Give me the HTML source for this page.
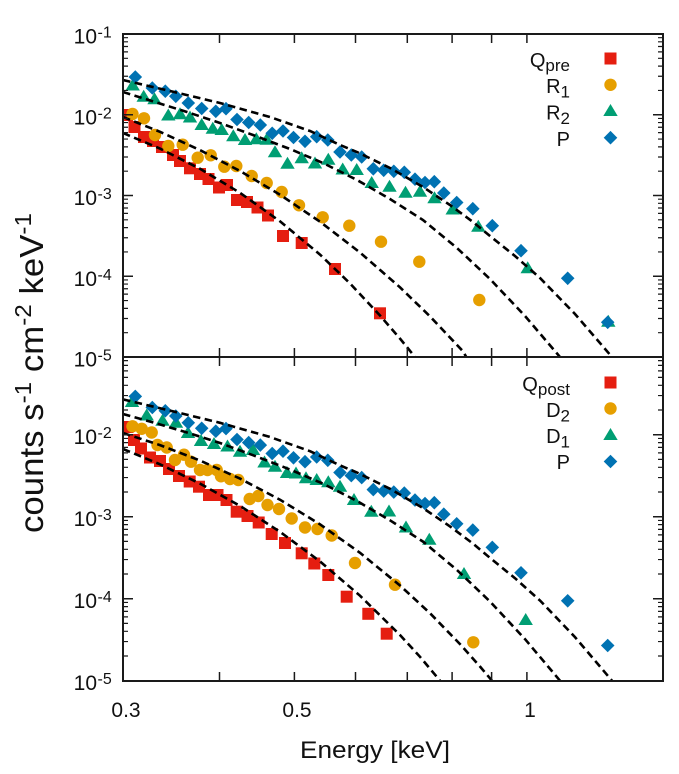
<!DOCTYPE html>
<html><head><meta charset="utf-8"><style>html,body{margin:0;padding:0;background:#fff}svg{display:block}</style></head>
<body>
<svg width="679" height="774" viewBox="0 0 679 774" font-family="'Liberation Sans', Arial, sans-serif">
<defs>
<path id="sq" d="M-6,-6h12v12h-12z" fill="#e51e10"/>
<circle id="ci" r="6.2" fill="#e69f00"/>
<path id="tr" d="M0,-7L7.2,5H-7.2z" fill="#009e73"/>
<path id="di" d="M0,-6.8L6.8,0L0,6.8L-6.8,0z" fill="#0072b2"/>
<clipPath id="cu"><rect x="123" y="34" width="540" height="323"/></clipPath>
<clipPath id="cl"><rect x="123" y="357" width="540" height="324"/></clipPath>
</defs>
<rect width="679" height="774" fill="#fff"/>

<!-- UPPER PANEL DATA -->
<g clip-path="url(#cu)">
<g>
<use href="#sq" x="127" y="115"/><use href="#sq" x="134.5" y="127"/><use href="#sq" x="144" y="137"/><use href="#sq" x="153" y="141"/><use href="#sq" x="162" y="147"/><use href="#sq" x="173" y="155"/><use href="#sq" x="180" y="161"/><use href="#sq" x="190" y="168.3"/><use href="#sq" x="200" y="174"/><use href="#sq" x="208.5" y="179"/><use href="#sq" x="219" y="187.5"/><use href="#sq" x="227" y="185"/><use href="#sq" x="237" y="200"/><use href="#sq" x="247" y="202"/><use href="#sq" x="257.5" y="207.5"/><use href="#sq" x="268" y="215.5"/><use href="#sq" x="283" y="236"/><use href="#sq" x="301.7" y="243"/><use href="#sq" x="335" y="269"/><use href="#sq" x="380" y="313.3"/>
</g>
<g>
<use href="#ci" x="132.5" y="114"/><use href="#ci" x="144" y="118.3"/><use href="#ci" x="155" y="135"/><use href="#ci" x="168.3" y="146"/><use href="#ci" x="182.7" y="144.7"/><use href="#ci" x="197.7" y="157.7"/><use href="#ci" x="210.7" y="155.3"/><use href="#ci" x="224.3" y="166.7"/><use href="#ci" x="236.3" y="166"/><use href="#ci" x="251.7" y="176"/><use href="#ci" x="266.7" y="183"/><use href="#ci" x="281.7" y="192"/><use href="#ci" x="299" y="205.3"/><use href="#ci" x="322.7" y="217.3"/><use href="#ci" x="349.3" y="225.7"/><use href="#ci" x="381" y="241.7"/><use href="#ci" x="419.3" y="261.7"/><use href="#ci" x="479.3" y="300"/>
</g>
<g>
<use href="#tr" x="132.7" y="85.5"/><use href="#tr" x="143.7" y="96.7"/><use href="#tr" x="154.5" y="99.3"/><use href="#tr" x="168.3" y="115.5"/><use href="#tr" x="180" y="114.3"/><use href="#tr" x="190" y="117.5"/><use href="#tr" x="201.7" y="125"/><use href="#tr" x="212.8" y="128.8"/><use href="#tr" x="221.7" y="130"/><use href="#tr" x="233.3" y="136.3"/><use href="#tr" x="245" y="140"/><use href="#tr" x="256.3" y="139.3"/><use href="#tr" x="266.7" y="139.7"/><use href="#tr" x="275" y="152.2"/><use href="#tr" x="287.5" y="163.7"/><use href="#tr" x="301.7" y="158.3"/><use href="#tr" x="315" y="163.5"/><use href="#tr" x="328.3" y="159.7"/><use href="#tr" x="342.7" y="169.5"/><use href="#tr" x="356.7" y="170"/><use href="#tr" x="371.7" y="183"/><use href="#tr" x="389.5" y="186.7"/><use href="#tr" x="405.5" y="192.7"/><use href="#tr" x="420" y="191.7"/><use href="#tr" x="434.5" y="198.3"/><use href="#tr" x="452.7" y="209.5"/><use href="#tr" x="478.3" y="226.7"/><use href="#tr" x="527.7" y="268.3"/><use href="#tr" x="608.3" y="321.7"/>
</g>
<g>
<use href="#di" x="135.3" y="77"/><use href="#di" x="152.3" y="88"/><use href="#di" x="165.3" y="91.2"/><use href="#di" x="175.8" y="96.3"/><use href="#di" x="188.3" y="103"/><use href="#di" x="201.7" y="108.5"/><use href="#di" x="215.8" y="111.3"/><use href="#di" x="226" y="108.7"/><use href="#di" x="237" y="119.5"/><use href="#di" x="248.7" y="122.5"/><use href="#di" x="260.3" y="125"/><use href="#di" x="272.2" y="133.3"/><use href="#di" x="283" y="131"/><use href="#di" x="293.5" y="137.5"/><use href="#di" x="305" y="141.3"/><use href="#di" x="316.7" y="136.7"/><use href="#di" x="327.8" y="140"/><use href="#di" x="340" y="152"/><use href="#di" x="351.3" y="155"/><use href="#di" x="361.7" y="157"/><use href="#di" x="373.3" y="168.8"/><use href="#di" x="383.7" y="170.3"/><use href="#di" x="393.8" y="171.3"/><use href="#di" x="404.3" y="172.3"/><use href="#di" x="415" y="179.2"/><use href="#di" x="425" y="182.5"/><use href="#di" x="434.3" y="181.7"/><use href="#di" x="443.8" y="193"/><use href="#di" x="456.7" y="202.5"/><use href="#di" x="472.8" y="208.7"/><use href="#di" x="492.3" y="225.7"/><use href="#di" x="521" y="250.7"/><use href="#di" x="567.7" y="278.3"/><use href="#di" x="607.7" y="322.3"/>
</g>
<g fill="none" stroke="#000" stroke-width="2.6" stroke-dasharray="7.5 4.5">
<polyline points="123,80 170,91 220,103 270,117 310,131 340,145 357,152 390,168 423,187 450,205 473,222 490,236 515,256 540,278 575,314 612,357 614,360"/>
<polyline points="123,92 155,102 187,112 220,123 253,135 290,149 323,163 357,180 390,199 423,220 457,248 490,279 525,316 560,357 562,360"/>
<polyline points="123,117 160,131.8 200,150.1 240,171 280,194.7 320,221.7 360,252.5 400,287.3 430,316.4 463,351.3 468,360"/>
<polyline points="123,133 160,148.6 200,168.8 240,192.8 280,221.3 320,254.6 350,283.4 380,315.5 400,338.6 415,357 417,360"/>
</g>
</g>

<!-- LOWER PANEL DATA -->
<g clip-path="url(#cl)">
<g>
<use href="#sq" x="127.5" y="427"/><use href="#sq" x="134" y="440"/><use href="#sq" x="141" y="448.5"/><use href="#sq" x="150" y="457.5"/><use href="#sq" x="160" y="461"/><use href="#sq" x="169" y="469"/><use href="#sq" x="179" y="476"/><use href="#sq" x="189.7" y="481.5"/><use href="#sq" x="199" y="486.7"/><use href="#sq" x="209" y="495"/><use href="#sq" x="217.5" y="495"/><use href="#sq" x="226.5" y="500"/><use href="#sq" x="236.7" y="511.7"/><use href="#sq" x="247.5" y="516"/><use href="#sq" x="258.7" y="522.5"/><use href="#sq" x="271.7" y="534"/><use href="#sq" x="285" y="543"/><use href="#sq" x="301.7" y="553.3"/><use href="#sq" x="314.3" y="563.5"/><use href="#sq" x="328.3" y="575"/><use href="#sq" x="346.7" y="596.7"/><use href="#sq" x="368.3" y="613.8"/><use href="#sq" x="386.7" y="633.7"/>
</g>
<g>
<use href="#ci" x="132.5" y="426.3"/><use href="#ci" x="141.7" y="428.8"/><use href="#ci" x="151.7" y="432.5"/><use href="#ci" x="157.5" y="445"/><use href="#ci" x="166.7" y="447.5"/><use href="#ci" x="175" y="460"/><use href="#ci" x="184" y="454.7"/><use href="#ci" x="191" y="461.7"/><use href="#ci" x="200" y="470"/><use href="#ci" x="207.5" y="470"/><use href="#ci" x="216.7" y="470"/><use href="#ci" x="221" y="476.3"/><use href="#ci" x="230" y="479"/><use href="#ci" x="238.3" y="480"/><use href="#ci" x="249.7" y="499"/><use href="#ci" x="258.3" y="496"/><use href="#ci" x="267.5" y="505"/><use href="#ci" x="279" y="509"/><use href="#ci" x="291.7" y="518.5"/><use href="#ci" x="305" y="527.5"/><use href="#ci" x="317.5" y="529"/><use href="#ci" x="331.7" y="535.5"/><use href="#ci" x="355" y="563"/><use href="#ci" x="395" y="584.7"/><use href="#ci" x="473.3" y="642.3"/>
</g>
<g>
<use href="#tr" x="132" y="402"/><use href="#tr" x="146.7" y="415.5"/><use href="#tr" x="162.5" y="420.7"/><use href="#tr" x="176" y="422.7"/><use href="#tr" x="188" y="433"/><use href="#tr" x="201" y="441"/><use href="#tr" x="214" y="444"/><use href="#tr" x="227.5" y="446.5"/><use href="#tr" x="240" y="451.7"/><use href="#tr" x="253" y="450"/><use href="#tr" x="264.5" y="462.5"/><use href="#tr" x="275" y="466.7"/><use href="#tr" x="287" y="473"/><use href="#tr" x="296" y="473.5"/><use href="#tr" x="306" y="478.3"/><use href="#tr" x="316.7" y="480"/><use href="#tr" x="328.3" y="482.2"/><use href="#tr" x="340" y="486.7"/><use href="#tr" x="354" y="500"/><use href="#tr" x="371.3" y="511.7"/><use href="#tr" x="389" y="511.5"/><use href="#tr" x="406" y="527.5"/><use href="#tr" x="429.3" y="539.7"/><use href="#tr" x="464" y="574"/><use href="#tr" x="525.7" y="620"/>
</g>
<g>
<use href="#di" x="135.3" y="396.4"/><use href="#di" x="152.3" y="407.5"/><use href="#di" x="165.3" y="410.8"/><use href="#di" x="175.8" y="416"/><use href="#di" x="188.3" y="422.8"/><use href="#di" x="201.7" y="428.3"/><use href="#di" x="215.8" y="431.2"/><use href="#di" x="226" y="428.6"/><use href="#di" x="237" y="439.5"/><use href="#di" x="248.7" y="442.6"/><use href="#di" x="260.3" y="445.1"/><use href="#di" x="272.2" y="453.5"/><use href="#di" x="283" y="451.2"/><use href="#di" x="293.5" y="457.8"/><use href="#di" x="305" y="461.7"/><use href="#di" x="316.7" y="457"/><use href="#di" x="327.8" y="460.3"/><use href="#di" x="340" y="472.5"/><use href="#di" x="351.3" y="475.6"/><use href="#di" x="361.7" y="477.6"/><use href="#di" x="373.3" y="489.6"/><use href="#di" x="383.7" y="491.1"/><use href="#di" x="393.8" y="492.1"/><use href="#di" x="404.3" y="493.1"/><use href="#di" x="415" y="500.1"/><use href="#di" x="425" y="503.5"/><use href="#di" x="434.3" y="502.7"/><use href="#di" x="443.8" y="514.2"/><use href="#di" x="456.7" y="523.8"/><use href="#di" x="472.8" y="530.1"/><use href="#di" x="492.3" y="547.4"/><use href="#di" x="521" y="572.8"/><use href="#di" x="567.7" y="600.8"/><use href="#di" x="607.7" y="645.5"/>
</g>
<g fill="none" stroke="#000" stroke-width="2.6" stroke-dasharray="7.5 4.5">
<polyline points="123,399.4 170,410.6 220,422.8 270,437 310,451.2 340,465.4 357,472.5 390,488.8 423,508.1 450,526.4 473,543.6 490,557.9 515,578.2 540,600.5 575,637.1 612,680.7 614,684"/>
<polyline points="123,414 155,423 187,432.5 220,443 253,455.2 290,469.5 323,483.7 357,501 390,520.3 423,541.6 457,570 490,601.5 525,639.1 560,680.7 562,684"/>
<polyline points="123,433 160,445.1 200,460.5 240,478.6 280,499.7 320,524.3 360,552.8 400,585.5 430,613.2 460,644.1 480,666.5 492,680.7 494,684"/>
<polyline points="123,449 160,464.3 200,483.6 240,505.9 280,531.8 320,561.4 360,595.7 400,635 420,656.8 440,680.7 442,684"/>
</g>
</g>

<!-- AXES -->
<g stroke="#1a1a1a" fill="none">
<rect x="123" y="34" width="540" height="323" stroke-width="2"/>
<rect x="123" y="357" width="540" height="324" stroke-width="2"/>
<path stroke-width="1.5" d="
M123,114.75h10M123,195.5h10M123,276.25h10
M663,114.75h-10M663,195.5h-10M663,276.25h-10
M123,598.7h10M123,516.7h10M123,434.7h10
M663,598.7h-10M663,516.7h-10M663,434.7h-10
M219.5,34v9M294.4,34v9M355.5,34v9M407.3,34v9M452.1,34v9M491.6,34v9M526.9,34v9
M219.5,357v-9M294.4,357v-9M355.5,357v-9M407.3,357v-9M452.1,357v-9M491.6,357v-9M526.9,357v-9
M219.5,357v9M294.4,357v9M355.5,357v9M407.3,357v9M452.1,357v9M491.6,357v9M526.9,357v9
M219.5,681v-9M294.4,681v-9M355.5,681v-9M407.3,681v-9M452.1,681v-9M491.6,681v-9M526.9,681v-9"/>
<path stroke-width="1.2" d="
M123,332.69h5M123,318.47h5M123,308.38h5M123,300.56h5M123,294.16h5M123,288.76h5M123,284.08h5M123,279.94h5
M123,251.94h5M123,237.72h5M123,227.63h5M123,219.81h5M123,213.41h5M123,208.01h5M123,203.33h5M123,199.19h5
M123,171.19h5M123,156.97h5M123,146.88h5M123,139.06h5M123,132.66h5M123,127.26h5M123,122.58h5M123,118.44h5
M123,90.44h5M123,76.22h5M123,66.13h5M123,58.31h5M123,51.91h5M123,46.51h5M123,41.83h5M123,37.69h5
M663,332.69h-5M663,318.47h-5M663,308.38h-5M663,300.56h-5M663,294.16h-5M663,288.76h-5M663,284.08h-5M663,279.94h-5
M663,251.94h-5M663,237.72h-5M663,227.63h-5M663,219.81h-5M663,213.41h-5M663,208.01h-5M663,203.33h-5M663,199.19h-5
M663,171.19h-5M663,156.97h-5M663,146.88h-5M663,139.06h-5M663,132.66h-5M663,127.26h-5M663,122.58h-5M663,118.44h-5
M663,90.44h-5M663,76.22h-5M663,66.13h-5M663,58.31h-5M663,51.91h-5M663,46.51h-5M663,41.83h-5M663,37.69h-5
M123,656.02h5M123,641.58h5M123,631.33h5M123,623.38h5M123,616.89h5M123,611.4h5M123,606.65h5M123,602.45h5
M123,574.02h5M123,559.58h5M123,549.33h5M123,541.38h5M123,534.89h5M123,529.4h5M123,524.65h5M123,520.45h5
M123,492.02h5M123,477.58h5M123,467.33h5M123,459.38h5M123,452.89h5M123,447.4h5M123,442.65h5M123,438.45h5
M123,410.02h5M123,395.58h5M123,385.33h5M123,377.38h5M123,370.89h5M123,365.4h5M123,360.65h5
M663,656.02h-5M663,641.58h-5M663,631.33h-5M663,623.38h-5M663,616.89h-5M663,611.4h-5M663,606.65h-5M663,602.45h-5
M663,574.02h-5M663,559.58h-5M663,549.33h-5M663,541.38h-5M663,534.89h-5M663,529.4h-5M663,524.65h-5M663,520.45h-5
M663,492.02h-5M663,477.58h-5M663,467.33h-5M663,459.38h-5M663,452.89h-5M663,447.4h-5M663,442.65h-5M663,438.45h-5
M663,410.02h-5M663,395.58h-5M663,385.33h-5M663,377.38h-5M663,370.89h-5M663,365.4h-5M663,360.65h-5"/>
</g>

<!-- Y tick labels -->
<g fill="#111" font-size="21">
<text x="97" y="43.5" text-anchor="end">10</text><text x="97.5" y="37.5" font-size="16">-1</text>
<text x="97" y="124.25" text-anchor="end">10</text><text x="97.5" y="118.25" font-size="16">-2</text>
<text x="97" y="205" text-anchor="end">10</text><text x="97.5" y="199" font-size="16">-3</text>
<text x="97" y="285.75" text-anchor="end">10</text><text x="97.5" y="279.75" font-size="16">-4</text>
<text x="97" y="366.5" text-anchor="end">10</text><text x="97.5" y="360.5" font-size="16">-5</text>
<text x="97" y="444.2" text-anchor="end">10</text><text x="97.5" y="438.2" font-size="16">-2</text>
<text x="97" y="526.2" text-anchor="end">10</text><text x="97.5" y="520.2" font-size="16">-3</text>
<text x="97" y="608.2" text-anchor="end">10</text><text x="97.5" y="602.2" font-size="16">-4</text>
<text x="97" y="690.2" text-anchor="end">10</text><text x="97.5" y="684.2" font-size="16">-5</text>
</g>

<!-- X tick labels -->
<g fill="#111" font-size="21" text-anchor="middle">
<text x="126" y="717">0.3</text>
<text x="297" y="717">0.5</text>
<text x="530" y="717">1</text>
</g>

<text x="375" y="758" text-anchor="middle" font-size="24.5" fill="#111" textLength="150" lengthAdjust="spacingAndGlyphs">Energy [keV]</text>

<text transform="translate(43,373) rotate(-90)" text-anchor="middle" font-size="33" fill="#111" textLength="320" lengthAdjust="spacingAndGlyphs">counts s<tspan dy="-12" font-size="23">-1</tspan><tspan dy="12"> cm</tspan><tspan dy="-12" font-size="23">-2</tspan><tspan dy="12"> keV</tspan><tspan dy="-12" font-size="23">-1</tspan></text>

<!-- Legends -->
<g fill="#111" font-size="20" text-anchor="end">
<text x="570" y="67">Q<tspan font-size="17" dy="4">pre</tspan></text>
<text x="570" y="93">R<tspan font-size="17" dy="4.5">1</tspan></text>
<text x="570" y="119.5">R<tspan font-size="17" dy="4.5">2</tspan></text>
<text x="570" y="146">P</text>
<text x="570" y="391">Q<tspan font-size="17" dy="4">post</tspan></text>
<text x="570" y="417">D<tspan font-size="17" dy="4.5">2</tspan></text>
<text x="570" y="443">D<tspan font-size="17" dy="4.5">1</tspan></text>
<text x="570" y="469">P</text>
</g>
<use href="#sq" x="610.5" y="58.5"/>
<use href="#ci" x="610.5" y="84.8"/>
<use href="#tr" x="610.5" y="111"/>
<use href="#di" x="610.5" y="137.7"/>
<use href="#sq" x="610.5" y="382.5"/>
<use href="#ci" x="610.5" y="408.5"/>
<use href="#tr" x="610.5" y="435"/>
<use href="#di" x="610.5" y="461.5"/>
</svg>
</body></html>
